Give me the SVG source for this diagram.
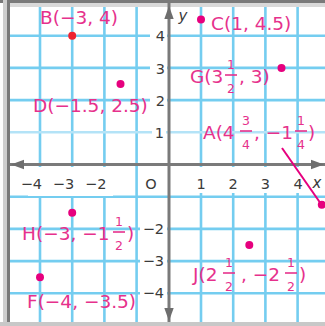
<svg xmlns="http://www.w3.org/2000/svg" width="325" height="326" viewBox="0 0 325 326">
  <style>
    .grid { stroke: #74CDF0; stroke-width: 2.6; fill: none; }
    .gridlight { stroke: #B4E3F7; stroke-width: 2.6; fill: none; }
    .axis { stroke: #7a7a7a; stroke-width: 3; fill: none; }
    .arrow { fill: #6e6e6e; }
    .num { font-family: "DejaVu Sans", sans-serif; font-size: 14.5px; fill: #3a3a3a; }
    .axlbl { font-family: "DejaVu Sans", sans-serif; font-size: 15px; font-style: italic; fill: #3a3a3a; }
    .lbl { font-family: "DejaVu Sans", sans-serif; font-size: 18.5px; fill: #E6318C; }
    .frac { font-family: "DejaVu Sans", sans-serif; font-size: 12.5px; fill: #E6318C; text-anchor: middle; }
    .bar { stroke: #E6318C; stroke-width: 1.6; }
    .pt { fill: #E6007E; }
    .ptred { fill: #EE2230; }
    .bg { fill: #ffffff; }
    .ptr { stroke: #E6007E; stroke-width: 2; fill: none; }
  </style>
  <rect x="0" y="0" width="325" height="326" fill="#ffffff"/>
  <g id="grid">
    <g class="grid">
      <line x1="40" y1="0" x2="40" y2="326"/>
      <line x1="72.2" y1="0" x2="72.2" y2="326"/>
      <line x1="104.4" y1="0" x2="104.4" y2="326"/>
      <line x1="136.6" y1="0" x2="136.6" y2="326"/>
      <line x1="201" y1="0" x2="201" y2="326"/>
      <line x1="233.2" y1="0" x2="233.2" y2="326"/>
      <line x1="265.4" y1="0" x2="265.4" y2="326"/>
      <line x1="297.6" y1="0" x2="297.6" y2="326"/>
      <line x1="8" y1="35.7" x2="325" y2="35.7"/>
      <line x1="8" y1="67.9" x2="325" y2="67.9"/>
      <line x1="8" y1="100.1" x2="325" y2="100.1"/>
      <line x1="8" y1="196.7" x2="325" y2="196.7"/>
      <line x1="8" y1="228.9" x2="325" y2="228.9"/>
      <line x1="8" y1="261.1" x2="325" y2="261.1"/>
      <line x1="8" y1="293.3" x2="325" y2="293.3"/>
    </g>
    <line class="gridlight" x1="8" y1="132.3" x2="325" y2="132.3"/>
  </g>
  <g id="label-backgrounds">
    <rect class="bg" x="150" y="27" width="17" height="18"/>
    <rect class="bg" x="150" y="59" width="17" height="18"/>
    <rect class="bg" x="150" y="91" width="17" height="18"/>
    <rect class="bg" x="152" y="124" width="14" height="17"/>
    <rect class="bg" x="140" y="220" width="27" height="18"/>
    <rect class="bg" x="140" y="252" width="27" height="18"/>
    <rect class="bg" x="140" y="284" width="27" height="18"/>
    <rect class="bg" x="28" y="167" width="85" height="29"/>
    <rect class="bg" x="186" y="167" width="124" height="26"/>
  </g>
  <g id="frame">
    <rect x="0" y="0" width="325" height="3" fill="#7a7a7a"/>
    <rect x="8" y="3" width="317" height="4" fill="#d9d9d9"/>
    <rect x="3" y="0" width="4" height="326" fill="#cfcfcf"/>
    <rect x="7" y="0" width="3" height="326" fill="#7a7a7a"/>
    <rect x="0" y="322" width="325" height="4" fill="#c8c8c8"/>
  </g>
  <g id="axes">
    <line class="axis" x1="10" y1="164.5" x2="325" y2="164.5"/>
    <line class="axis" x1="169" y1="3" x2="169" y2="322"/>
    <polygon class="arrow" points="11,164.5 24,159.8 24,169.2"/>
    <polygon class="arrow" points="324,164.5 311,159.8 311,169.2"/>
    <polygon class="arrow" points="169,6 164.3,19 173.7,19"/>
    <polygon class="arrow" points="169,321 164.3,308 173.7,308"/>
    <text class="axlbl" x="183" y="21" text-anchor="middle">y</text>
    <text class="axlbl" x="317" y="188" text-anchor="middle">x</text>
  </g>
  <g id="ticks">
    <text class="num" x="42" y="189" text-anchor="end">−4</text>
    <text class="num" x="74.2" y="189" text-anchor="end">−3</text>
    <text class="num" x="106.4" y="189" text-anchor="end">−2</text>
    <text class="num" x="151" y="189" text-anchor="middle">O</text>
    <text class="num" x="201" y="189" text-anchor="middle">1</text>
    <text class="num" x="233.2" y="189" text-anchor="middle">2</text>
    <text class="num" x="265.4" y="189" text-anchor="middle">3</text>
    <text class="num" x="298" y="189" text-anchor="middle">4</text>
    <text class="num" x="165" y="41" text-anchor="end">4</text>
    <text class="num" x="165" y="73.5" text-anchor="end">3</text>
    <text class="num" x="165" y="105.5" text-anchor="end">2</text>
    <text class="num" x="164" y="137.5" text-anchor="end">1</text>
    <text class="num" x="164" y="234" text-anchor="end">−2</text>
    <text class="num" x="164" y="266" text-anchor="end">−3</text>
    <text class="num" x="164" y="298" text-anchor="end">−4</text>
  </g>
  <g id="connectors">
    <line class="ptr" x1="282" y1="148" x2="321" y2="204"/>
  </g>
  <g id="B">
    <circle class="ptred" cx="72.2" cy="35.7" r="4"/>
    <text class="lbl" x="40" y="24">B(−3, 4)</text>
  </g>
  <g id="C">
    <circle class="pt" cx="201" cy="19.6" r="4"/>
    <text class="lbl" x="211" y="30">C(1, 4.5)</text>
  </g>
  <g id="D">
    <circle class="pt" cx="120.5" cy="84" r="4"/>
    <text class="lbl" x="33" y="112">D(−1.5, 2.5)</text>
  </g>
  <g id="G">
    <circle class="pt" cx="281.5" cy="67.9" r="4"/>
    <text class="lbl" x="190" y="83">G(3</text>
    <text class="frac" x="231" y="69">1</text>
    <line class="bar" x1="225" y1="75" x2="237" y2="75"/>
    <text class="frac" x="231" y="93">2</text>
    <text class="lbl" x="239" y="83">, 3)</text>
  </g>
  <g id="A">
    <circle class="pt" cx="321.8" cy="204.7" r="4"/>
    <text class="lbl" x="203" y="139">A(4</text>
    <text class="frac" x="246" y="125">3</text>
    <line class="bar" x1="240" y1="131" x2="252" y2="131"/>
    <text class="frac" x="246" y="149">4</text>
    <text class="lbl" x="254" y="139">, −1</text>
    <text class="frac" x="301" y="125">1</text>
    <line class="bar" x1="295" y1="131" x2="307" y2="131"/>
    <text class="frac" x="301" y="149">4</text>
    <text class="lbl" x="308" y="139">)</text>
  </g>
  <g id="H">
    <circle class="pt" cx="72.2" cy="212.8" r="4"/>
    <text class="lbl" x="22" y="240">H(−3, −1</text>
    <text class="frac" x="119" y="226">1</text>
    <line class="bar" x1="113" y1="232" x2="125" y2="232"/>
    <text class="frac" x="119" y="250">2</text>
    <text class="lbl" x="127" y="240">)</text>
  </g>
  <g id="F">
    <circle class="pt" cx="40" cy="277.2" r="4"/>
    <text class="lbl" x="27" y="308">F(−4, −3.5)</text>
  </g>
  <g id="J">
    <circle class="pt" cx="249.3" cy="245" r="4"/>
    <text class="lbl" x="193" y="281">J(2</text>
    <text class="frac" x="229" y="267">1</text>
    <line class="bar" x1="223" y1="273" x2="235" y2="273"/>
    <text class="frac" x="229" y="291">2</text>
    <text class="lbl" x="241" y="281">, −2</text>
    <text class="frac" x="291" y="267">1</text>
    <line class="bar" x1="285" y1="273" x2="297" y2="273"/>
    <text class="frac" x="291" y="291">2</text>
    <text class="lbl" x="299" y="281">)</text>
  </g>
</svg>
